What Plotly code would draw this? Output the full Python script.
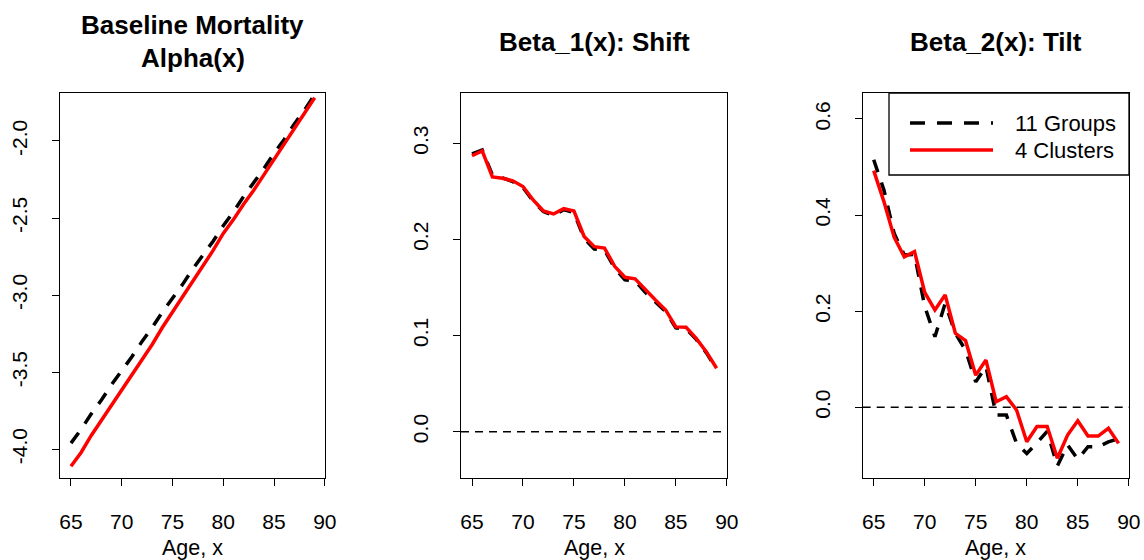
import plotly.graph_objects as go

W, H = 1144, 560

ages = list(range(65, 90))

alpha_groups = [-3.96, -3.87, -3.77, -3.68, -3.58, -3.49, -3.40, -3.30, -3.21, -3.11,
                -3.02, -2.93, -2.83, -2.74, -2.65, -2.55, -2.46, -2.36, -2.27, -2.18,
                -2.08, -1.99, -1.89, -1.80, -1.70]
alpha_clusters = [-4.11, -4.02, -3.91, -3.81, -3.71, -3.61, -3.52, -3.41, -3.32, -3.21,
                  -3.11, -3.01, -2.91, -2.82, -2.71, -2.60, -2.51, -2.41, -2.32, -2.22,
                  -2.12, -2.02, -1.92, -1.82, -1.72]

beta1_groups = [0.289, 0.293, 0.267, 0.264, 0.260, 0.254, 0.240, 0.229, 0.225, 0.231,
                0.228, 0.201, 0.190, 0.189, 0.170, 0.158, 0.157, 0.145, 0.135, 0.125,
                0.108, 0.107, 0.096, 0.082, 0.065]
beta1_clusters = [0.287, 0.292, 0.265, 0.2636, 0.261, 0.255, 0.241, 0.2296, 0.2265, 0.232,
                  0.2296, 0.203, 0.1925, 0.191, 0.172, 0.1606, 0.159, 0.1474, 0.137, 0.1266,
                  0.109, 0.1086, 0.097, 0.083, 0.066]

beta2_groups = [0.515, 0.452, 0.362, 0.317, 0.318, 0.210, 0.147, 0.216, 0.154, 0.119,
                0.053, 0.085, -0.016, -0.016, -0.075, -0.096, -0.074, -0.050, -0.122, -0.078,
                -0.108, -0.082, -0.082, -0.072, -0.065]
beta2_clusters = [0.4925, 0.428, 0.354, 0.313, 0.324, 0.239, 0.2025, 0.234, 0.154, 0.1387,
                  0.067, 0.0984, 0.0117, 0.022, -0.0056, -0.0716, -0.040, -0.040, -0.106, -0.0576,
                  -0.0279, -0.0597, -0.0597, -0.0437, -0.075]

titles = [["Baseline Mortality", "Alpha(x)"], ["Beta_1(x): Shift"], ["Beta_2(x): Tilt"]]
legend_labels = ["11 Groups", "4 Clusters"]
x_ticks = [65, 70, 75, 80, 85, 90]
y_ticks = [[-4.0, -3.5, -3.0, -2.5, -2.0], [0.0, 0.1, 0.2, 0.3], [0.0, 0.2, 0.4, 0.6]]
y_ranges = [[-4.186, -1.689], [-0.0482, 0.3523], [-0.147, 0.654]]
x_range = [63.92, 90.02]

FONT = "Liberation Sans, Arial, sans-serif"
px_left = [60, 461, 862.7]
px_right = [325, 727, 1129]
top_px, bot_px = 93, 478

series = [(alpha_groups, alpha_clusters), (beta1_groups, beta1_clusters), (beta2_groups, beta2_clusters)]

fig = go.Figure()
layout = dict(width=W, height=H, margin=dict(l=0, r=0, t=0, b=0, autoexpand=False),
              paper_bgcolor="white", plot_bgcolor="white", showlegend=False,
              font=dict(family=FONT, color="black"))
annotations = []
shapes = []

for i in range(3):
    xa = "xaxis" if i == 0 else f"xaxis{i+1}"
    ya = "yaxis" if i == 0 else f"yaxis{i+1}"
    xr = "x" if i == 0 else f"x{i+1}"
    yr = "y" if i == 0 else f"y{i+1}"
    dom_x = [px_left[i] / W, px_right[i] / W]
    dom_y = [(H - bot_px) / H, (H - top_px) / H]
    layout[xa] = dict(domain=dom_x, range=x_range, anchor=yr, showgrid=False, zeroline=False,
                      automargin=False,
                      showline=True, mirror=True, linecolor="black", linewidth=1.3,
                      ticks="outside", ticklen=7, tickwidth=1, tickcolor="black",
                      tickvals=x_ticks, ticktext=[str(v) for v in x_ticks],
                      tickfont=dict(size=21, family=FONT), ticklabelstandoff=18)
    layout[ya] = dict(domain=dom_y, range=y_ranges[i], anchor=xr, showgrid=False, zeroline=False,
                      automargin=False,
                      showline=True, mirror=True, linecolor="black", linewidth=1.3,
                      ticks="outside", ticklen=7, tickwidth=1, tickcolor="black",
                      tickvals=y_ticks[i], ticktext=[f"{v:.1f}" for v in y_ticks[i]],
                      tickangle=-90, tickfont=dict(size=21, family=FONT), ticklabelstandoff=16)
    g, c = series[i]
    fig.add_trace(go.Scatter(x=ages, y=g, mode="lines", xaxis=xr, yaxis=yr,
                             line=dict(color="black", width=3.5, dash="13px,11px")))
    fig.add_trace(go.Scatter(x=ages, y=c, mode="lines", xaxis=xr, yaxis=yr,
                             line=dict(color="#ff0000", width=3.5)))
    cx = (px_left[i] + px_right[i]) / 2 / W
    if len(titles[i]) == 2:
        ys = [25, 58]
    else:
        ys = [42]
    for t, yp in zip(titles[i], ys):
        annotations.append(dict(text=f"<b>{t}</b>", x=cx, y=(H - yp) / H, xref="paper", yref="paper",
                                xanchor="center", yanchor="middle", showarrow=False,
                                font=dict(size=26, family=FONT, color="black")))
    annotations.append(dict(text="Age, x", x=cx, y=(H - 548) / H, xref="paper", yref="paper",
                            xanchor="center", yanchor="middle", showarrow=False,
                            font=dict(size=21.5, family=FONT, color="black")))
    if i > 0:
        shapes.append(dict(type="line", xref=f"{xr} domain", yref=yr, x0=0, x1=1, y0=0, y1=0,
                           line=dict(color="black", width=1.5, dash="8px,6px")))

# legend (panel 3)
shapes.append(dict(type="rect", xref="paper", yref="paper",
                   x0=889 / W, x1=1129 / W, y0=(H - 175) / H, y1=(H - 93) / H,
                   line=dict(color="black", width=1.3), fillcolor="white"))
leg_styles = [dict(color="black", width=3.5, dash="15px,12px"), dict(color="#ff0000", width=3.5)]
for k, (lab, ypix) in enumerate(zip(legend_labels, [123, 150])):
    shapes.append(dict(type="line", xref="paper", yref="paper", x0=910 / W, x1=993 / W,
                       y0=(H - ypix) / H, y1=(H - ypix) / H, line=leg_styles[k]))
    annotations.append(dict(text=lab, x=1013 / W, y=(H - ypix) / H, xref="paper", yref="paper",
                            xanchor="left", yanchor="middle", showarrow=False,
                            font=dict(size=22, family=FONT, color="black")))

layout["annotations"] = annotations
layout["shapes"] = shapes
fig.update_layout(**layout)
fig.write_html("out.html")
